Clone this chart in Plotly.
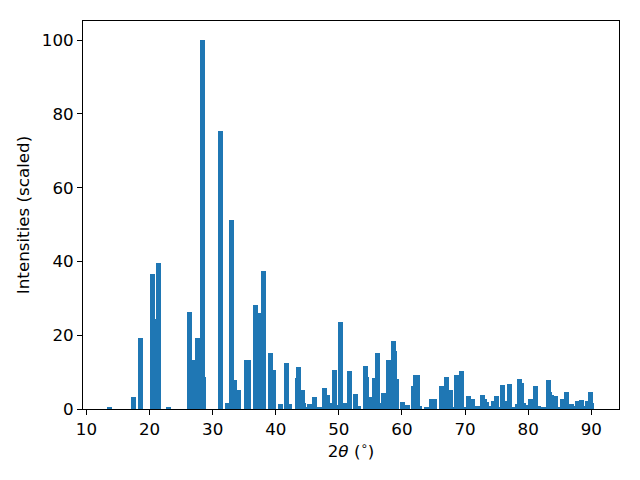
import plotly.graph_objects as go

two_theta = [13.6, 17.45, 18.56, 20.46, 20.9, 21.41, 23.0, 26.32, 27.1, 27.59, 28.36, 28.54,
             31.24, 32.35, 32.98, 33.45, 34.09, 35.3, 35.6, 36.78, 37.26, 38.05,
             39.16, 39.64, 40.74, 41.70, 42.17, 43.44, 43.6, 44.23, 44.39, 44.8, 45.4, 46.13,
             46.9, 47.3, 47.72, 48.19, 48.6, 49.30, 49.8, 50.25, 50.7, 51.1, 51.68, 52.63, 53.1,
             54.22, 54.38, 54.85, 55.64, 56.12, 56.43, 57.07, 57.86, 58.65, 58.81, 59.13,
             60.08, 60.5, 60.9, 61.82, 62.2, 62.5, 62.75, 63.9,
             64.67, 65.15, 66.26, 67.05, 67.69, 68.1, 68.64, 69.43, 70.0, 70.54, 71.17, 71.97,
             72.76, 73.07, 73.39, 73.8, 74.50, 74.98, 75.5, 75.93, 76.25, 77.04, 77.6, 78.3,
             78.62, 78.94, 79.3, 79.7, 80.37, 81.16, 81.7, 82.0, 82.6, 83.22, 83.38, 83.69,
             84.33, 84.7, 85.44, 86.07, 86.86, 87.2, 87.81, 88.45, 88.9, 89.40, 89.87, 90.03]
intensity = [0.3, 3.25, 19.2, 36.5, 24.3, 39.5, 0.45, 26.2, 13.2, 19.2, 100.0, 8.6,
             75.3, 1.5, 51.2, 7.8, 5.1, 13.2, 13.2, 28.1, 26.0, 37.3,
             15.2, 10.6, 1.4, 12.5, 1.4, 8.4, 11.4, 5.15, 1.6, 0.5, 1.4, 3.25,
             0.3, 0.5, 5.7, 3.8, 1.6, 10.6, 1.1, 23.6, 0.8, 1.6, 10.3, 4.1, 0.8,
             11.7, 8.7, 3.25, 8.4, 15.2, 1.6, 4.3, 13.3, 18.4, 15.7, 8.1,
             1.9, 1.1, 1.1, 6.2, 9.2, 9.2, 0.8, 0.3,
             2.7, 2.7, 6.2, 8.7, 5.15, 0.5, 9.2, 10.3, 0.5, 3.5, 2.7, 0.8,
             3.8, 2.7, 1.9, 0.8, 2.2, 3.5, 0.5, 6.5, 2.2, 6.8, 0.5, 1.4,
             8.1, 7.0, 1.6, 1.1, 2.7, 6.2, 0.8, 0.3, 0.5, 7.9, 4.6, 3.8,
             3.5, 0.5, 2.7, 4.6, 1.4, 0.8, 2.2, 2.4, 0.8, 2.2, 4.6, 1.6]

x_ticks = [10, 20, 30, 40, 50, 60, 70, 80, 90]
y_ticks = [0, 20, 40, 60, 80, 100]

fig = go.Figure(go.Bar(
    x=two_theta, y=intensity, width=0.8,
    marker=dict(color="#1f77b4", line=dict(width=0)),
))

axis_common = dict(
    showgrid=False, zeroline=False, showline=True, linecolor="black", linewidth=1,
    mirror=True, ticks="outside", ticklen=5, tickwidth=1, tickcolor="black",
    tickfont=dict(family="DejaVu Sans", size=16.7, color="black"),
)
fig.update_layout(
    width=640, height=480,
    margin=dict(l=75, r=29, t=13, b=79),
    plot_bgcolor="white", paper_bgcolor="white",
    showlegend=False, bargap=0,
    font=dict(family="DejaVu Sans", color="black"),
    xaxis=dict(range=[9.45, 94.4], tickvals=x_ticks,
               title=dict(text="2<i>θ</i> (<sup>∘</sup>)", font=dict(size=16.7), standoff=7),
               **axis_common),
    yaxis=dict(range=[0, 105.2], tickvals=y_ticks,
               title=dict(text="Intensities (scaled)", font=dict(size=16.7), standoff=7),
               **axis_common),
)
fig.write_html("out.html")
